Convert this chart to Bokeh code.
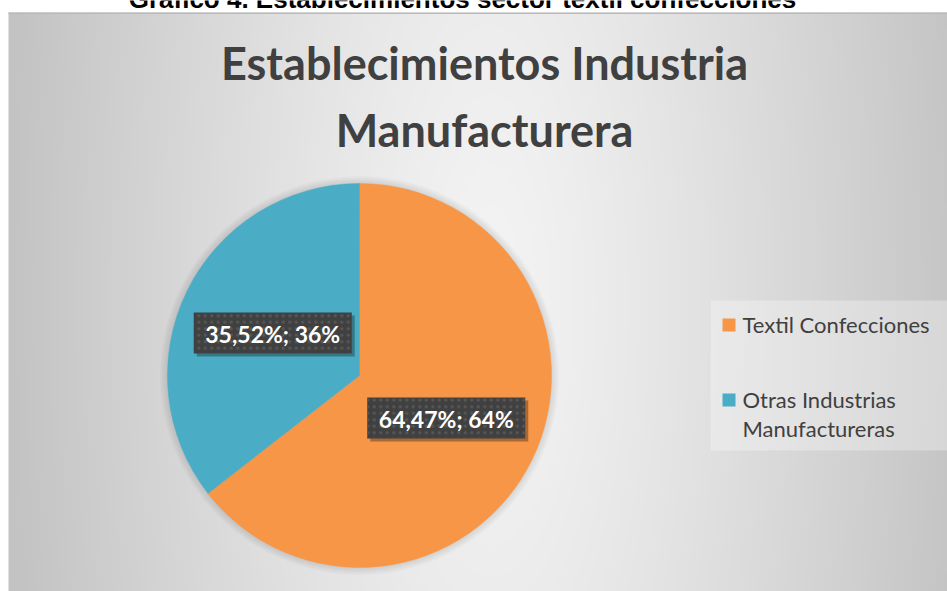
import numpy as np
from bokeh.plotting import figure
from bokeh.models import Range1d, ColumnDataSource
from bokeh.core.properties import value
from bokeh.embed import file_html
from bokeh.resources import INLINE

# ---- data ----
categories = ["Textil Confecciones", "Otras Industrias Manufactureras"]
percent = [64.47, 35.52]
rounded = [64, 36]
colors = ["#F79646", "#4BACC6"]
legend_lines = [["Textil Confecciones"], ["Otras Industrias", "Manufactureras"]]
title_lines = ["Establecimientos Industria", "Manufacturera"]
caption = "Gráfico 4. Establecimientos sector textil confecciones"

W, H = 947, 591
p = figure(width=W, height=H, x_range=Range1d(0, W), y_range=Range1d(0, H),
           output_backend="svg", toolbar_location=None, min_border=0,
           x_axis_location=None, y_axis_location=None)
p.grid.visible = False
p.outline_line_color = None
p.background_fill_color = "white"
p.border_fill_color = "white"

# ---- background gradient (chart area) ----
GX0, GX1, GY1 = 8, W, 579
gw, gh = 470, 290
xs = GX0 + (np.arange(gw) + 0.5) * ((GX1 - GX0) / gw)
ys = (np.arange(gh) + 0.5) * (GY1 / gh)
XX, YY = np.meshgrid(xs, ys)
d = np.sqrt(((XX - 490) / 482) ** 2 + ((YY - 290) / 1400) ** 2)
d = np.clip(d, 0, 1) ** 1.2
g = (0xF4 - (0xF4 - 0xC3) * d).astype(np.uint32)
img = (np.uint32(255) << np.uint32(24)) | (g << np.uint32(16)) | (g << np.uint32(8)) | g
p.image_rgba(image=[img.astype(np.uint32)], x=GX0, y=0, dw=GX1 - GX0, dh=GY1)
p.quad(left=GX0, right=GX1, bottom=GY1 - 1.5, top=GY1, fill_color="#b9b9b9", line_color=None)

# caption (cut off at the top edge, as in the reference)
p.text(x=[462], y=[593], text=[caption], text_font=value("Liberation Sans"),
       text_font_style="bold", text_font_size="26px", text_color="black",
       text_align="center", text_baseline="alphabetic")

# ---- title ----
p.text(x=[484, 484], y=[529, 462], text=title_lines, text_font=value("Lato"),
       text_font_style="bold", text_font_size="45px", text_color="#404040",
       text_align="center", text_baseline="alphabetic")

# ---- pie ----
cx, cy, R = 359, 216, 192
for k in np.arange(1.5, 9.0, 1.5):
    p.circle(x=[cx], y=[cy], radius=R + k, fill_color="black", fill_alpha=0.02, line_color=None)

total = sum(percent)
starts, ends, mids = [], [], []
cum = 0.0
for v in percent:
    a0 = np.pi / 2 - 2 * np.pi * cum / total
    cum += v
    a1 = np.pi / 2 - 2 * np.pi * cum / total
    starts.append(a0)
    ends.append(a1)
    mids.append((a0 + a1) / 2)
src = ColumnDataSource(dict(x=[cx] * len(percent), y=[cy] * len(percent),
                            start=starts, end=ends, color=colors, cat=categories))
p.wedge(x="x", y="y", radius=R, start_angle="start", end_angle="end",
        direction="clock", fill_color="color", line_color="color", line_width=0.5, source=src)

# ---- data labels ----
lr = 0.503 * R
lx = [cx + lr * np.cos(m) for m in mids]
ly = [cy + lr * np.sin(m) for m in mids]
labels = [f"{v:.2f}".replace(".", ",") + f"%; {r}%" for v, r in zip(percent, rounded)]
p.rect(x=[x + 3 for x in lx], y=[y - 3 for y in ly], width=158, height=41,
       fill_color="black", fill_alpha=0.3, line_color=None)
p.rect(x=lx, y=ly, width=158, height=41, fill_color="#404040", line_color=None,
       hatch_pattern="dot", hatch_color="#575757", hatch_scale=6.5, hatch_weight=1.5)
p.text(x=lx, y=[y - 1 for y in ly], text=labels, text_font=value("Lato"), text_font_style="bold",
       text_font_size="23px", text_color="white", text_align="center", text_baseline="middle")

# ---- legend ----
p.rect(x=[828.5], y=[216], width=237, height=150, fill_color="white", fill_alpha=0.3, line_color=None)
sq_y = [266.5, 191.5]
p.rect(x=[728.5] * 2, y=sq_y, width=13, height=13, fill_color=colors, line_color=None)
line_x, line_y, line_t = [], [], []
for i, lines in enumerate(legend_lines):
    base = sq_y[i] - 7.5 + 8.5
    for j, t in enumerate(lines):
        line_x.append(742)
        line_y.append(base - 29 * j)
        line_t.append(t)
p.text(x=line_x, y=line_y, text=line_t, text_font=value("Lato"), text_font_size="22px",
       text_color="#404040", text_align="left", text_baseline="alphabetic")

open("out.html", "w").write(file_html(p, INLINE))
